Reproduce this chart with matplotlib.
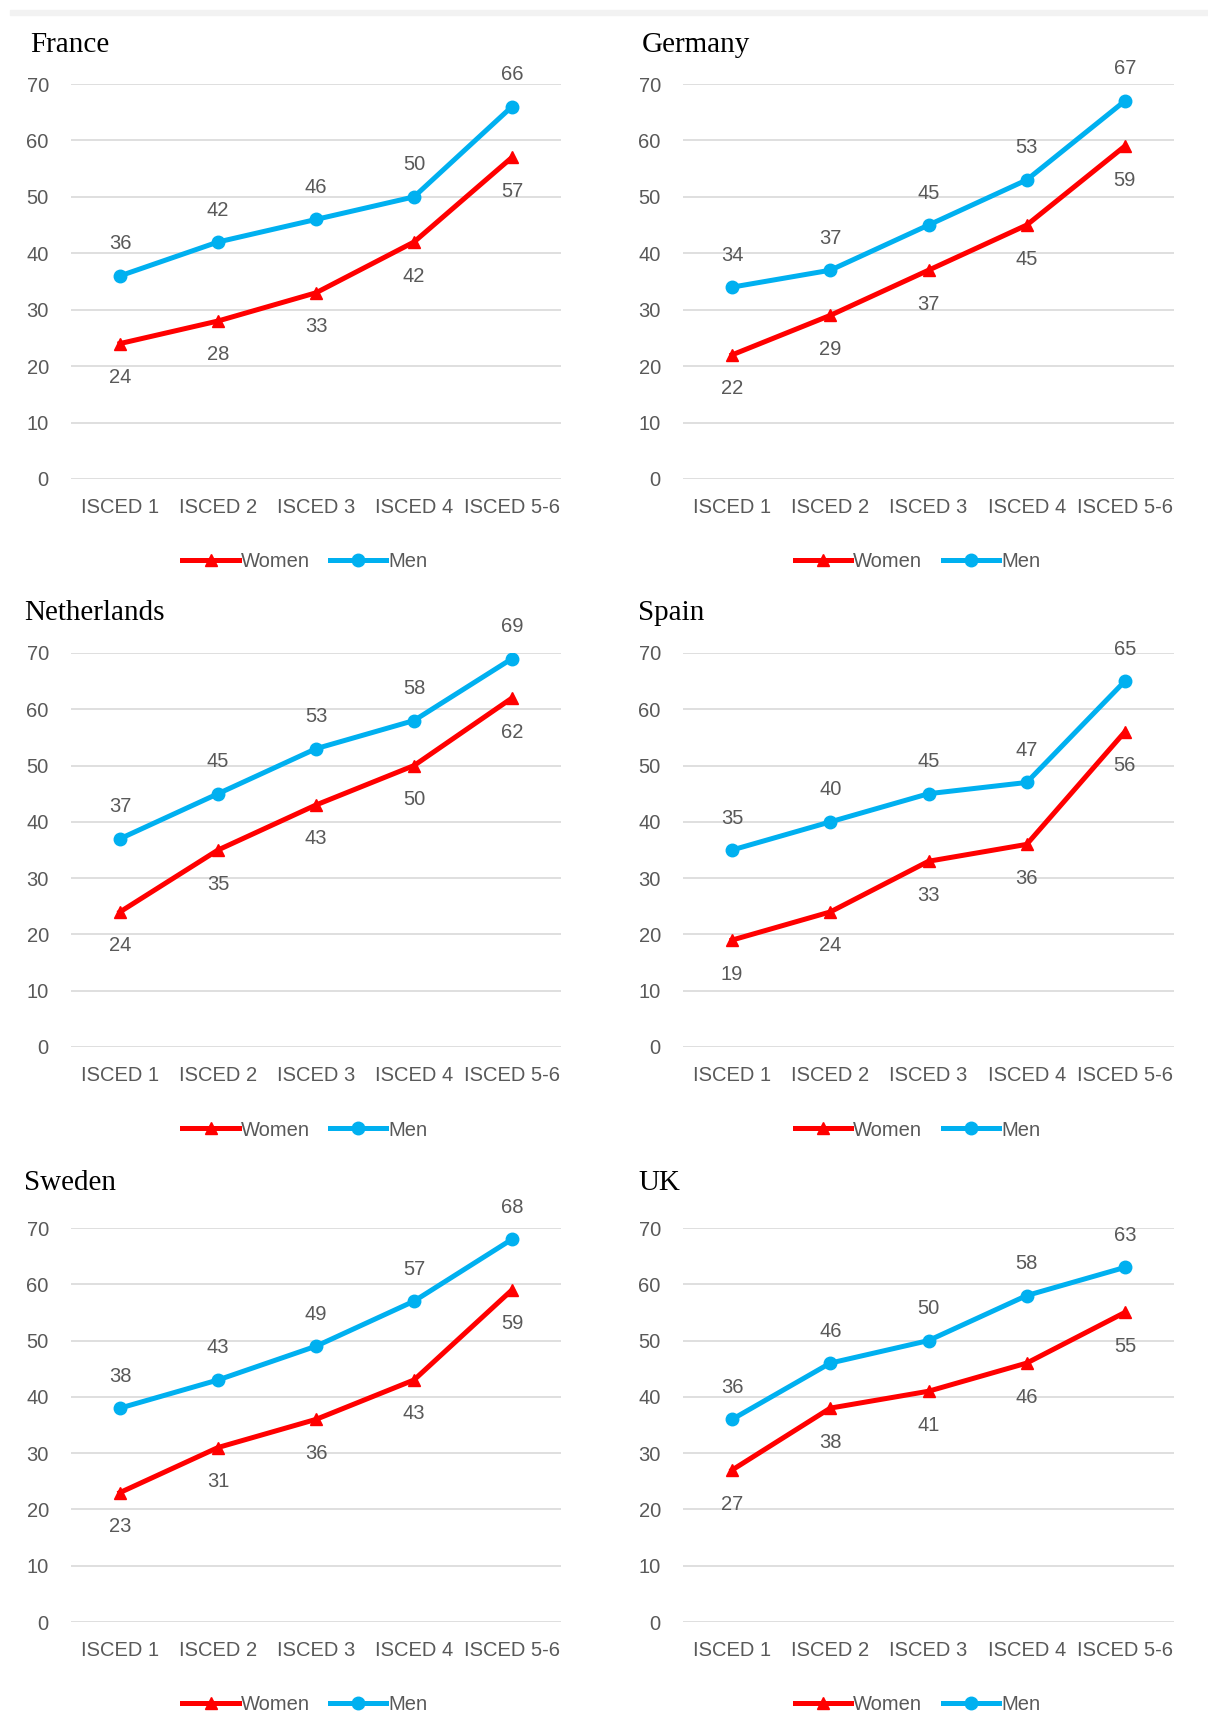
import matplotlib
matplotlib.use("Agg")
import matplotlib.pyplot as plt
from matplotlib.patches import Rectangle
from matplotlib import font_manager

# Data
levels = ["ISCED 1", "ISCED 2", "ISCED 3", "ISCED 4", "ISCED 5-6"]
countries = ["France", "Germany", "Netherlands", "Spain", "Sweden", "UK"]

france_women = [24, 28, 33, 42, 57]
france_men = [36, 42, 46, 50, 66]
germany_women = [22, 29, 37, 45, 59]
germany_men = [34, 37, 45, 53, 67]
netherlands_women = [24, 35, 43, 50, 62]
netherlands_men = [37, 45, 53, 58, 69]
spain_women = [19, 24, 33, 36, 56]
spain_men = [35, 40, 45, 47, 65]
sweden_women = [23, 31, 36, 43, 59]
sweden_men = [38, 43, 49, 57, 68]
uk_women = [27, 38, 41, 46, 55]
uk_men = [36, 46, 50, 58, 63]

women = [france_women, germany_women, netherlands_women, spain_women, sweden_women, uk_women]
men = [france_men, germany_men, netherlands_men, spain_men, sweden_men, uk_men]

# pick a narrow sans if we have one
names = {f.name for f in font_manager.fontManager.ttflist}
sans = "Liberation Sans Narrow" if "Liberation Sans Narrow" in names else "Liberation Sans"
fs = 16 if sans.endswith("Narrow") else 14.5

W, H = 1208, 1718
fig = plt.figure(figsize=(W / 100, H / 100), dpi=100)
fig.patch.set_facecolor("white")

# thin grey band at the very top
fig.patches.append(Rectangle((10 / W, 1 - 15 / H), 1, 5 / H, transform=fig.transFigure,
                             color="#f2f2f2", zorder=0))

grey = "#595959"
red = "#ff0000"
blue = "#00b0f0"

# panel geometry in pixels: (left, width), (top, bottom), title pos
cols = [(71, 490), (683, 491)]
rows = [(84, 479), (653, 1047), (1228, 1622)]
title_pos = [(30, 45), (642, 45), (24, 613), (638, 613), (24, 1183), (638, 1183)]

for i, name in enumerate(countries):
    left, width = cols[i % 2]
    top, bottom = rows[i // 2]
    ax = fig.add_axes([left / W, 1 - bottom / H, width / W, (bottom - top) / H])
    x = list(range(len(levels)))

    ax.plot(x, women[i], color=red, lw=3.6, marker="^", ms=9, label="Women", zorder=3)
    ax.plot(x, men[i], color=blue, lw=3.6, marker="o", ms=9, label="Men", zorder=3)

    for xi, v in zip(x, men[i]):
        ax.annotate(str(v), (xi, v), xytext=(0, 32), textcoords="offset pixels",
                    ha="center", va="center", fontsize=fs, color=grey, family=sans)
    for xi, v in zip(x, women[i]):
        ax.annotate(str(v), (xi, v), xytext=(0, -34), textcoords="offset pixels",
                    ha="center", va="center", fontsize=fs, color=grey, family=sans)

    ax.set_xlim(-0.5, 4.5)
    ax.set_ylim(0, 70)
    ax.set_yticks(range(0, 71, 10))
    ax.set_xticks(x)
    ax.set_xticklabels(levels)
    ax.grid(axis="y", color="#d9d9d9", lw=1.2)
    ax.set_axisbelow(True)
    for s in ax.spines.values():
        s.set_visible(False)
    ax.tick_params(length=0, labelsize=fs, labelcolor=grey)
    ax.tick_params(axis="x", pad=14)
    ax.tick_params(axis="y", pad=16)
    for lab in ax.get_xticklabels() + ax.get_yticklabels():
        lab.set_family(sans)

    ax.legend(loc="center", bbox_to_anchor=(0.5 - 11 / width, -83 / (bottom - top)),
              ncol=2, frameon=False, handlelength=2.8, handletextpad=0.1, columnspacing=1.0,
              prop={"family": sans, "size": fs}, labelcolor=grey)

    tx, ty = title_pos[i]
    fig.text(tx / W, 1 - ty / H, name, family="Liberation Serif", fontsize=21,
             ha="left", va="center", color="black")

fig.savefig("out.png", dpi=100)
